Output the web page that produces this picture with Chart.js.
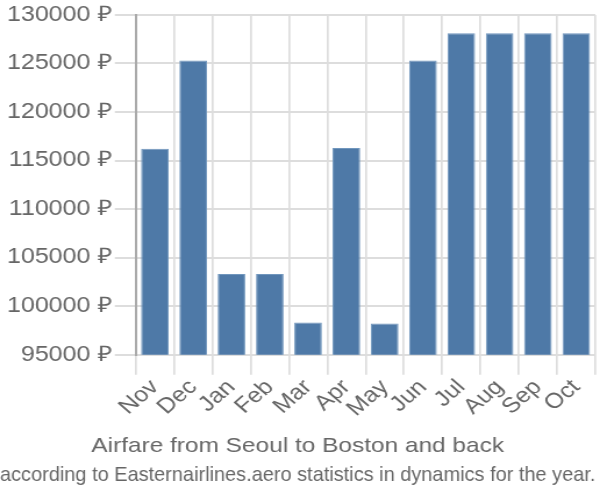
<!DOCTYPE html>
<html><head><meta charset="utf-8">
<script src="https://cdn.jsdelivr.net/npm/chart.js@4/dist/chart.umd.min.js"></script>
<style>html,body{margin:0;padding:0;background:#fff;overflow:hidden}#w{width:516px;height:500px;transform:scaleX(1.1628);transform-origin:0 0}</style>
</head><body><div id="w"><canvas id="c"></canvas></div>
<script>
const months = ["Nov","Dec","Jan","Feb","Mar","Apr","May","Jun","Jul","Aug","Sep","Oct"];
const fares = [116200,125300,103300,103300,98300,116300,98200,125300,128100,128100,128100,128100];
const yMin = 95000, yMax = 130000, yStep = 5000;
const titleText = "Airfare from Seoul to Boston and back";
const subtitleText = "according to Easternairlines.aero statistics in dynamics for the year.";

new Chart(document.getElementById('c'), {
  type: 'bar',
  data: { labels: months, datasets: [{ data: fares, backgroundColor: '#4e79a7', borderColor: '#7096bd', borderWidth: 1, barPercentage: 0.72, categoryPercentage: 1 }] },
  options: {
    responsive: true, maintainAspectRatio: false, animation: false,
    layout: { padding: { top: 0, right: 4, left: 0, bottom: 12 } },
    plugins: {
      legend: { display: false }, tooltip: { enabled: false },
      title: { display: true, text: titleText, position: 'bottom', weight: 1000, color: '#666', font: { family: 'Liberation Sans', size: 21, weight: 'normal' }, padding: { top: 12, bottom: 4 } },
      subtitle: { display: true, text: subtitleText, position: 'bottom', weight: 2000, color: '#666', font: { family: 'Liberation Sans', size: 21, weight: 'normal' }, padding: { top: 0, bottom: 0 } }
    },
    scales: {
      x: {
        grid: { color: '#dddddd', lineWidth: 1.7, tickLength: 20, offset: true },
        border: { color: '#dddddd', width: 2 },
        ticks: { color: '#666', font: { family: 'Liberation Sans', size: 21.5 }, maxRotation: 45, minRotation: 45, padding: 0, autoSkip: false }
      },
      y: {
        min: yMin, max: yMax,
        afterFit: s => { s.width += 4; },
        grid: { color: '#dddddd', lineWidth: 2, tickLength: 18 },
        border: { color: '#aaaaaa', width: 2 },
        ticks: { stepSize: yStep, color: '#666', font: { family: 'Liberation Sans', size: 21.5 }, padding: 2, callback: v => v + ' ₽' }
      }
    }
  }
});
</script></body></html>
